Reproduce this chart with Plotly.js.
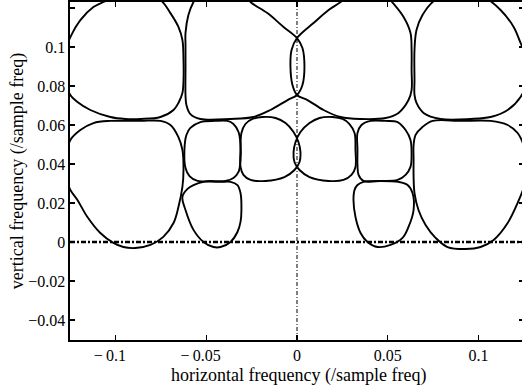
<!DOCTYPE html>
<html>
<head>
<meta charset="utf-8">
<script src="https://cdn.plot.ly/plotly-3.0.1.min.js"></script>
<style>html,body{margin:0;padding:0;overflow:hidden;background:#fff}</style>
</head>
<body>
<div id="chart"></div>
<script>
// Closed contour curves (horizontal / vertical frequency)
const b1x = [-0.1287,-0.1270,-0.1248,-0.1193,-0.1121,-0.1066,-0.1000,-0.0912,-0.0818,-0.0752,-0.0697,-0.0653,-0.0631,-0.0625,-0.0625,-0.0631,-0.0653,-0.0680,-0.0752,-0.0862,-0.0945,-0.1028,-0.1138,-0.1209,-0.1248,-0.1275];
const b1y = [0.0903,0.0995,0.1051,0.1138,0.1205,0.1231,0.1256,0.1267,0.1256,0.1241,0.1174,0.1103,0.1036,0.0933,0.0831,0.0764,0.0713,0.0677,0.0641,0.0631,0.0631,0.0641,0.0677,0.0718,0.0754,0.0821];

const b2x = [-0.0614,-0.0614,-0.0598,-0.0570,-0.0532,-0.0394,-0.0284,-0.0256,-0.0163,-0.0074,0.0000,0.0030,0.0041,0.0030,0.0000,-0.0052,-0.0146,-0.0240,-0.0366,-0.0532,-0.0587,-0.0609,-0.0614,-0.0614];
const b2y = [0.1010,0.1072,0.1164,0.1231,0.1282,0.1303,0.1267,0.1231,0.1174,0.1103,0.1046,0.0995,0.0897,0.0805,0.0754,0.0728,0.0677,0.0641,0.0631,0.0631,0.0656,0.0703,0.0754,0.0882];

const b3x = [0.0000,0.0091,0.0174,0.0240,0.0295,0.0405,0.0488,0.0515,0.0587,0.0625,0.0631,0.0631,0.0631,0.0614,0.0559,0.0488,0.0350,0.0240,0.0146,0.0058,0.0000,-0.0025,-0.0036,-0.0030];
const b3y = [0.1046,0.1123,0.1190,0.1231,0.1282,0.1303,0.1272,0.1241,0.1154,0.1072,0.0985,0.0882,0.0779,0.0728,0.0662,0.0636,0.0631,0.0641,0.0677,0.0728,0.0754,0.0805,0.0897,0.0985];

const b4x = [0.0647,0.0647,0.0658,0.0691,0.0747,0.0818,0.0928,0.1038,0.1121,0.1193,0.1231,0.1270,0.1270,0.1231,0.1160,0.1066,0.0956,0.0791,0.0697,0.0658,0.0647];
const b4y = [0.0831,0.0985,0.1087,0.1164,0.1231,0.1267,0.1272,0.1251,0.1190,0.1103,0.1021,0.0933,0.0831,0.0744,0.0677,0.0641,0.0631,0.0631,0.0662,0.0713,0.0754];

const b5x = [-0.1281,-0.1264,-0.1248,-0.1193,-0.1121,-0.1028,-0.0862,-0.0752,-0.0697,-0.0653,-0.0631,-0.0625,-0.0631,-0.0653,-0.0680,-0.0736,-0.0807,-0.0890,-0.0956,-0.1011,-0.1083,-0.1154,-0.1209,-0.1248,-0.1270];
const b5y = [0.0395,0.0472,0.0523,0.0574,0.0610,0.0621,0.0621,0.0621,0.0600,0.0538,0.0472,0.0369,0.0282,0.0179,0.0097,0.0026,-0.0015,-0.0031,-0.0026,-0.0005,0.0046,0.0128,0.0215,0.0267,0.0328];

const b6x = [-0.0620,-0.0609,-0.0587,-0.0532,-0.0449,-0.0383,-0.0350,-0.0322,-0.0311,-0.0311,-0.0322,-0.0350,-0.0394,-0.0477,-0.0548,-0.0592,-0.0614];
const b6y = [0.0472,0.0549,0.0585,0.0615,0.0621,0.0621,0.0605,0.0564,0.0497,0.0421,0.0359,0.0328,0.0313,0.0313,0.0313,0.0338,0.0379];

const b7x = [-0.0311,-0.0306,-0.0284,-0.0245,-0.0190,-0.0118,-0.0063,-0.0019,0.0008,0.0019,0.0014,-0.0014,-0.0069,-0.0174,-0.0256,-0.0295,-0.0311];
const b7y = [0.0472,0.0559,0.0605,0.0631,0.0641,0.0636,0.0610,0.0564,0.0513,0.0462,0.0410,0.0369,0.0333,0.0313,0.0318,0.0344,0.0385];

const b8x = [0.0322,0.0317,0.0289,0.0251,0.0196,0.0124,0.0069,0.0019,-0.0008,-0.0019,-0.0014,0.0014,0.0069,0.0174,0.0256,0.0300,0.0322];
const b8y = [0.0472,0.0559,0.0605,0.0631,0.0641,0.0636,0.0610,0.0564,0.0513,0.0462,0.0410,0.0369,0.0333,0.0313,0.0318,0.0344,0.0385];

const b9x = [0.0333,0.0333,0.0355,0.0405,0.0488,0.0554,0.0598,0.0625,0.0631,0.0625,0.0598,0.0554,0.0460,0.0366,0.0339,0.0333];
const b9y = [0.0472,0.0559,0.0600,0.0621,0.0621,0.0615,0.0574,0.0523,0.0446,0.0385,0.0344,0.0318,0.0313,0.0313,0.0344,0.0395];

const b10x = [0.0642,0.0642,0.0653,0.0691,0.0747,0.0901,0.1066,0.1160,0.1215,0.1248,0.1275,0.1253,0.1215,0.1160,0.1083,0.1011,0.0928,0.0829,0.0763,0.0708,0.0669,0.0647,0.0642];
const b10y = [0.0421,0.0497,0.0549,0.0590,0.0621,0.0621,0.0621,0.0600,0.0559,0.0497,0.0395,0.0292,0.0200,0.0097,0.0010,-0.0026,-0.0036,-0.0026,0.0021,0.0087,0.0164,0.0251,0.0333];

const b11x = [-0.0631,-0.0603,-0.0570,-0.0515,-0.0421,-0.0366,-0.0328,-0.0311,-0.0306,-0.0311,-0.0328,-0.0366,-0.0421,-0.0460,-0.0515,-0.0570,-0.0614];
const b11y = [0.0231,0.0272,0.0292,0.0308,0.0308,0.0308,0.0292,0.0251,0.0164,0.0103,0.0051,0.0000,-0.0026,-0.0026,0.0000,0.0062,0.0164];

const b12x = [0.0317,0.0333,0.0366,0.0460,0.0559,0.0609,0.0636,0.0642,0.0614,0.0581,0.0515,0.0444,0.0388,0.0350,0.0322,0.0311];
const b12y = [0.0267,0.0292,0.0308,0.0313,0.0308,0.0292,0.0251,0.0164,0.0077,0.0021,-0.0015,-0.0026,0.0000,0.0046,0.0128,0.0215];

const xTickVals = [-0.1, -0.05, 0, 0.05, 0.1];
const xTickText = ['\u2212\u20090.1\u2002\u2009', '\u2212\u20090.05\u2002\u2009', '0', '0.05', '0.1'];
const yTickVals = [-0.04, -0.02, 0, 0.02, 0.04, 0.06, 0.08, 0.1, 0.12];
const yTickText = ['\u22120.04', '\u22120.02', '0', '0.02', '0.04', '0.06', '0.08', '0.1', '0.12'];
const xTitle = 'horizontal frequency (/sample freq)';
const yTitle = 'vertical frequency (/sample freq)';

const curves = [[b1x,b1y],[b2x,b2y],[b3x,b3y],[b4x,b4y],[b5x,b5y],[b6x,b6y],[b7x,b7y],[b8x,b8y],[b9x,b9y],[b10x,b10y],[b11x,b11y],[b12x,b12y]];

const traces = curves.map(([xs, ys]) => ({
  type: 'scatter', mode: 'lines',
  x: xs.concat([xs[0]]), y: ys.concat([ys[0]]),
  line: {color: '#000', width: 1.9, shape: 'spline', smoothing: 1},
  hoverinfo: 'skip', showlegend: false
}));

const serif = 'Liberation Serif, Times New Roman, Times, serif';
const tickFont = {family: serif, size: 16, color: '#000'};
const titleFont = {family: serif, size: 18, color: '#000'};

const layout = {
  width: 524, height: 392,
  margin: {l: 70, r: 0, t: 2, b: 52},
  paper_bgcolor: '#fff', plot_bgcolor: '#fff',
  font: tickFont,
  showlegend: false,
  xaxis: {
    range: [-0.125, 0.125], tickvals: xTickVals, ticktext: xTickText,
    ticks: 'inside', ticklen: 5, tickwidth: 1.2, tickcolor: '#000',
    showline: true, linecolor: '#000', linewidth: 1.6, mirror: 'allticks',
    showgrid: false, zeroline: false, tickfont: tickFont
  },
  yaxis: {
    range: [-0.0503, 0.1231], tickvals: yTickVals, ticktext: yTickText,
    ticks: 'inside', ticklen: 5, tickwidth: 1.2, tickcolor: '#000',
    showline: true, linecolor: '#000', linewidth: 1.6, mirror: 'allticks',
    showgrid: false, zeroline: false, tickfont: tickFont,
    title: {text: yTitle, font: titleFont, standoff: 0}
  },
  annotations: [
    {text: xTitle, font: titleFont, showarrow: false, borderpad: 0,
     xref: 'paper', yref: 'paper', x: 0.503, y: 0, xanchor: 'center', yanchor: 'middle', yshift: -35}
  ],
  shapes: [
    {type: 'line', xref: 'paper', yref: 'y', x0: 0, x1: 1, y0: 0, y1: 0,
     line: {color: '#000', width: 2.4, dash: '5px,2px,2px,2px'}},
    {type: 'line', xref: 'x', yref: 'paper', x0: 0, x1: 0, y0: 0, y1: 1,
     line: {color: '#000', width: 1, dash: '4px,2px,1px,2px'}}
  ]
};

Plotly.newPlot('chart', traces, layout, {displayModeBar: false, staticPlot: true});
</script>
</body>
</html>
